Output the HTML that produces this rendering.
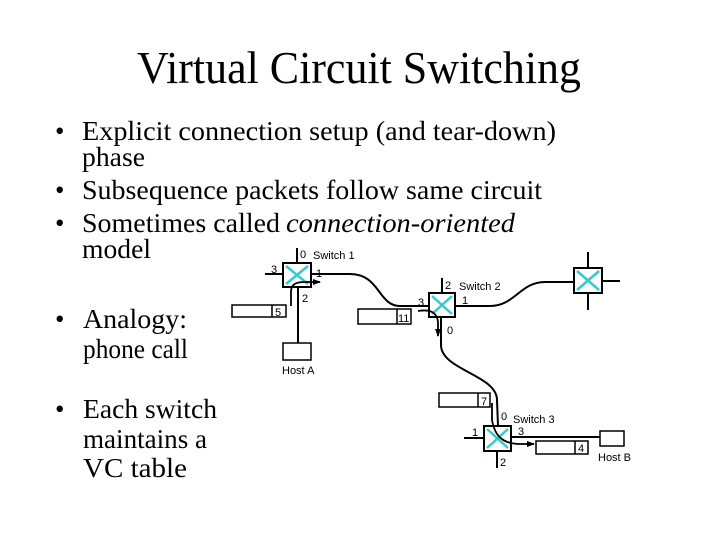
<!DOCTYPE html>
<html><head><meta charset="utf-8"><style>
html,body{margin:0;padding:0;background:#fff}
svg{display:block}
.t{font-family:"Liberation Serif",serif;fill:#000}
.s{font-family:"Liberation Sans",sans-serif;font-size:11px;fill:#000}
</style></head><body>
<svg width="720" height="540" viewBox="0 0 720 540" xmlns="http://www.w3.org/2000/svg">
<defs>
<marker id="ah" markerWidth="8" markerHeight="6" refX="7" refY="3" orient="auto" markerUnits="userSpaceOnUse"><path d="M0,0 L8,3 L0,6 z" fill="#000"/></marker>
</defs>
<text class="t" x="137" y="83" font-size="46" textLength="444" lengthAdjust="spacingAndGlyphs">Virtual Circuit Switching</text>
<g class="t" font-size="27">
<text x="55" y="140">•</text>
<text x="82" y="140" textLength="474" lengthAdjust="spacingAndGlyphs">Explicit connection setup (and tear-down)</text>
<text x="82" y="166" textLength="63" lengthAdjust="spacingAndGlyphs">phase</text>
<text x="55" y="199">•</text>
<text x="82" y="199" textLength="460" lengthAdjust="spacingAndGlyphs">Subsequence packets follow same circuit</text>
<text x="55" y="232">•</text>
<text x="82" y="232" textLength="198" lengthAdjust="spacingAndGlyphs">Sometimes called</text>
<text x="286" y="232" font-style="italic" textLength="229" lengthAdjust="spacingAndGlyphs">connection-oriented</text>
<text x="82" y="258" textLength="69" lengthAdjust="spacingAndGlyphs">model</text>
<text x="55" y="328">•</text>
<text x="83" y="328" textLength="104" lengthAdjust="spacingAndGlyphs">Analogy:</text>
<text x="83" y="358" textLength="105" lengthAdjust="spacingAndGlyphs">phone call</text>
<text x="55" y="418">•</text>
<text x="83" y="418" textLength="134" lengthAdjust="spacingAndGlyphs">Each switch</text>
<text x="83" y="448" textLength="124" lengthAdjust="spacingAndGlyphs">maintains a</text>
<text x="83" y="477" textLength="104" lengthAdjust="spacingAndGlyphs">VC table</text>
</g>
<g stroke="#000" stroke-width="2" fill="none">
<line x1="297" y1="248" x2="297" y2="263"/>
<line x1="265" y1="274" x2="283" y2="274"/>
<line x1="298" y1="287" x2="298" y2="343"/>
<path d="M311,274 L350,274 C380,274 378,306 400,306 L429,306"/>
<line x1="442" y1="278" x2="442" y2="293"/>
<path d="M455,306 L490,306 C515,306 520,282 545,282 L574,282"/>
<path d="M441,317 L441,345 C441,370 497,375 497,400 L498,426"/>
<line x1="588" y1="252" x2="588" y2="268"/>
<line x1="588" y1="293" x2="588" y2="310"/>
<line x1="602" y1="281" x2="620" y2="281"/>
<line x1="464" y1="438" x2="484" y2="438"/>
<line x1="511" y1="437" x2="600" y2="437"/>
<line x1="497" y1="451" x2="497" y2="468"/>
</g>
<g stroke="#000" stroke-width="2" fill="#fff">
<rect x="283" y="263" width="28" height="24"/>
<rect x="429" y="293" width="26" height="24"/>
<rect x="574" y="268" width="28" height="25"/>
<rect x="484" y="426" width="27" height="25"/>
</g>
<g stroke="#33cccc" stroke-width="2.5">
<line x1="286" y1="266" x2="308" y2="284"/><line x1="308" y1="266" x2="286" y2="284"/>
<line x1="432" y1="296" x2="452" y2="314"/><line x1="452" y1="296" x2="432" y2="314"/>
<line x1="577" y1="271" x2="599" y2="290"/><line x1="599" y1="271" x2="577" y2="290"/>
<line x1="487" y1="429" x2="508" y2="448"/><line x1="508" y1="429" x2="487" y2="448"/>
</g>
<g stroke="#000" stroke-width="1.8" fill="none" marker-end="url(#ah)">
<path d="M291,306 L291,292 C291,284 296,282 305,282 L320,282"/>
<path d="M418,311 C430,309 437,312 438,322 L438,336"/>
<path d="M492,403 L492,420 C495,438 505,444 520,444 L534,444"/>
</g>
<g stroke="#000" stroke-width="1.5" fill="#fff">
<rect x="283" y="343" width="28" height="17"/>
<rect x="600" y="431" width="24" height="15"/>
<rect x="232" y="305" width="54" height="12"/><line x1="272" y1="305" x2="272" y2="317"/>
<rect x="358" y="309" width="53" height="15"/><line x1="397" y1="309" x2="397" y2="324"/>
<rect x="439" y="393" width="51" height="14"/><line x1="478" y1="393" x2="478" y2="407"/>
<rect x="536" y="441" width="52" height="13"/><line x1="575" y1="441" x2="575" y2="454"/>
</g>
<g class="s">
<text x="300" y="258">0</text><text x="313" y="259">Switch 1</text>
<text x="271" y="273">3</text><text x="316" y="277">1</text>
<text x="302" y="302">2</text>
<text x="275" y="316">5</text>
<text x="445" y="289">2</text><text x="459" y="290">Switch 2</text>
<text x="418" y="306">3</text><text x="462" y="304">1</text>
<text x="398" y="322">11</text>
<text x="447" y="334">0</text>
<text x="282" y="374">Host A</text>
<text x="481" y="405">7</text>
<text x="501" y="420">0</text><text x="513" y="423">Switch 3</text>
<text x="472" y="436">1</text><text x="518" y="435">3</text>
<text x="578" y="452">4</text>
<text x="598" y="461">Host B</text>
<text x="500" y="466">2</text>
</g>
</svg>
</body></html>
